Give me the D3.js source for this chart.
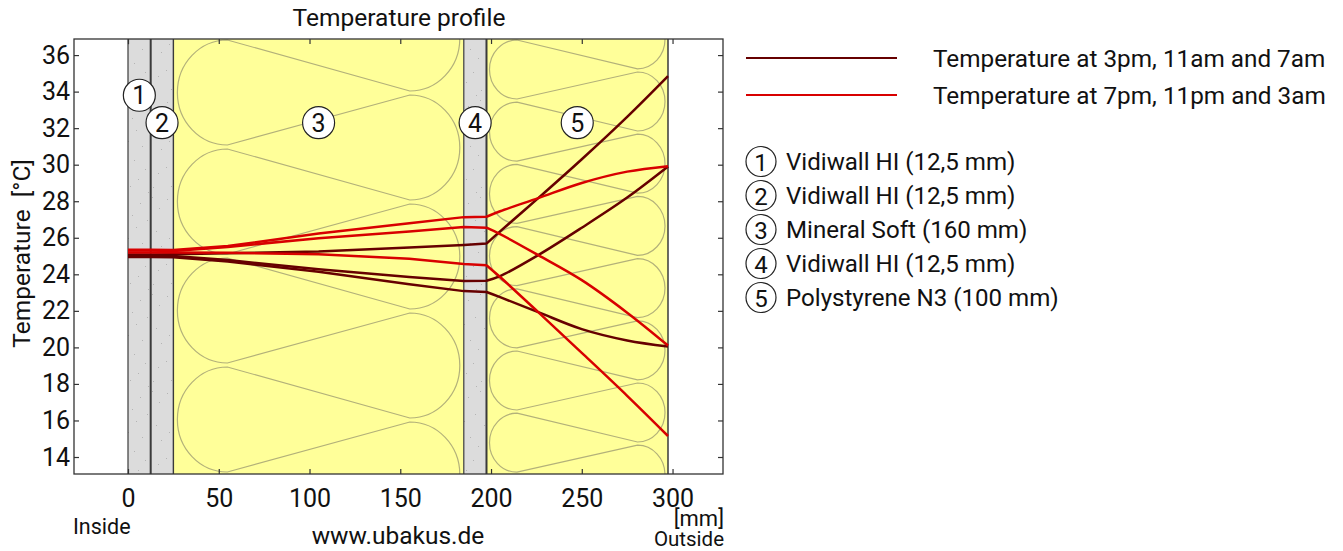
<!DOCTYPE html>
<html>
<head>
<meta charset="utf-8">
<script src="https://cdn.jsdelivr.net/npm/d3@7"></script>
<style>
body { margin: 0; background: #fff; }
text { font-family: Roboto, sans-serif; fill: #111; }
</style>
</head>
<body>
<div id="viz"></div>
<script>
var margin = {top: 39, right: 620, bottom: 77, left: 74},
    width = 1343,
    height = 551;

// wall layers, mm from the inside
var layerNames = ["Vidiwall HI (12,5 mm)", "Vidiwall HI (12,5 mm)", "Mineral Soft (160 mm)", "Vidiwall HI (12,5 mm)", "Polystyrene N3 (100 mm)"];
var layerEdges = [0, 12.5, 25, 185, 197.5, 297.5];
var layerKinds = ["board", "board", "wool", "board", "wool"];

// temperature read at these depths
var depths = [0, 12.5, 25, 55, 105, 155, 185, 197.5, 205, 226, 250, 275, 297.5];

var dayLabel = "Temperature at 3pm, 11am and 7am";
var dayA = [25.08, 25.08, 25.1, 25.15, 25.25, 25.47, 25.6, 25.68, 26.35, 28.17, 30.3, 32.62, 34.85];
var dayB = [25.0, 25.0, 25.0, 24.78, 24.28, 23.85, 23.63, 23.65, 23.9, 25.05, 26.55, 28.2, 29.9];
var dayC = [24.95, 24.95, 24.93, 24.7, 24.14, 23.45, 23.08, 23.03, 22.75, 21.93, 21.0, 20.38, 20.05];

var nightLabel = "Temperature at 7pm, 11pm and 3am";
var nightA = [25.35, 25.35, 25.33, 25.55, 26.23, 26.8, 27.13, 27.15, 27.45, 28.17, 29.0, 29.62, 29.92];
var nightB = [25.3, 25.3, 25.28, 25.5, 25.98, 26.35, 26.59, 26.55, 26.2, 25.05, 23.68, 21.9, 20.1];
var nightC = [25.2, 25.2, 25.2, 25.18, 25.1, 24.85, 24.56, 24.5, 23.85, 21.93, 19.7, 17.35, 15.15];

var xTicks = [0, 50, 100, 150, 200, 250, 300];
var yTicks = [14, 16, 18, 20, 22, 24, 26, 28, 30, 32, 34, 36];

var dayColor = "#660000", nightColor = "#d80000";

var x = d3.scaleLinear()
    .domain([-29.75, 327.8])
    .range([margin.left, width - margin.right]);

var y = d3.scaleLinear()
    .domain([13.07, 36.88])
    .range([height - margin.bottom, margin.top]);

var svg = d3.select("#viz").append("svg")
    .attr("width", width)
    .attr("height", height)
    .style("display", "block");

var defs = svg.append("defs");

defs.append("clipPath").attr("id", "plot")
  .append("rect")
    .attr("x", margin.left).attr("y", margin.top)
    .attr("width", width - margin.right - margin.left)
    .attr("height", height - margin.bottom - margin.top);

// gypsum board speckle
var speckle = defs.append("pattern").attr("id", "speckle")
    .attr("patternUnits", "userSpaceOnUse")
    .attr("width", 41).attr("height", 97);
speckle.append("rect").attr("width", 41).attr("height", 97).attr("fill", "#dcdcdc");
[[3,5],[17,9],[29,3],[36,14],[9,21],[24,26],[13,33],[33,37],[5,44],[19,49],[38,52],[27,58],
 [11,63],[2,70],[22,72],[35,76],[15,82],[7,89],[30,90],[25,95]].forEach(function(p) {
  speckle.append("rect")
    .attr("x", p[0]).attr("y", p[1])
    .attr("width", 1).attr("height", 1)
    .attr("fill", "#b4b4b4");
});

var layers = svg.append("g").attr("clip-path", "url(#plot)");

layerKinds.forEach(function(kind, i) {
  var x0 = x(layerEdges[i]), x1 = x(layerEdges[i + 1]);
  layers.append("rect")
    .attr("x", x0).attr("y", margin.top)
    .attr("width", x1 - x0)
    .attr("height", height - margin.bottom - margin.top)
    .attr("fill", kind == "board" ? "url(#speckle)" : "#ffff99");
});

// insulation squiggle, lobes left and right joined by straight runs
function wool(x0, x1, period, ry, rx, inset, topLeft, topRight) {
  var jl = x0 + inset, jr = x1 - inset;
  var yl = topLeft - period * 2, yr = topRight - period * 2;
  var d = "M" + jl + "," + yl;
  for (var k = 0; k < 12; k++) {
    d += "A" + rx + "," + ry + " 0 0 0 " + jl + "," + (yl + 2 * ry) +
         "L" + jr + "," + yr +
         "A" + rx + "," + ry + " 0 0 1 " + jr + "," + (yr + 2 * ry) +
         "L" + jl + "," + (yl + period);
    yl += period;
    yr += period;
  }
  return d;
}

var woolStroke = "#b3b17a";
layers.append("path")
    .attr("d", wool(x(25), x(185), 109, 52.5, 50, 54, 40, 95))
    .attr("fill", "none").attr("stroke", woolStroke).attr("stroke-width", 1.2);
layers.append("path")
    .attr("d", wool(x(197.5), x(297.5), 62.2, 29.5, 27.5, 30.5, 40, 72))
    .attr("fill", "none").attr("stroke", woolStroke).attr("stroke-width", 1.2);

// layer borders
var borderW = [1.2, 2, 1.4, 1.2, 2, 1.5];
layerEdges.forEach(function(e, i) {
  svg.append("line")
    .attr("x1", x(e)).attr("x2", x(e))
    .attr("y1", margin.top).attr("y2", height - margin.bottom)
    .attr("stroke", "#3a3a3a")
    .attr("stroke-width", borderW[i]);
});

// temperature lines: straight through the inner layers, smooth through the outer one
var kink = depths.indexOf(197.5);
var lineInner = d3.line()
    .x(function(d) { return x(d[0]); })
    .y(function(d) { return y(d[1]); });
var lineOuter = d3.line()
    .curve(d3.curveCatmullRom)
    .x(function(d) { return x(d[0]); })
    .y(function(d) { return y(d[1]); });

function drawSeries(s, color) {
  var pts = s.map(function(v, i) { return [depths[i], v]; });
  svg.append("path")
    .attr("d", lineInner(pts.slice(0, kink + 1)) + lineOuter(pts.slice(kink)))
    .attr("fill", "none")
    .attr("stroke", color)
    .attr("stroke-width", 2.5);
}

[dayA, dayB, dayC].forEach(function(s) { drawSeries(s, dayColor); });
[nightA, nightB, nightC].forEach(function(s) { drawSeries(s, nightColor); });

// frame and axes, ticks point inward on all four sides
function styleAxis(g) {
  g.select(".domain").remove();
  g.selectAll(".tick line").attr("stroke", "#333").attr("stroke-width", 1.2);
  g.selectAll(".tick text").style("font-size", "25px").attr("fill", "#111");
}

svg.append("g")
    .attr("transform", "translate(0," + (height - margin.bottom) + ")")
    .call(d3.axisBottom(x).tickValues(xTicks).tickSize(-5).tickPadding(15).tickFormat(d3.format("d")))
    .call(styleAxis);
svg.append("g")
    .attr("transform", "translate(0," + margin.top + ")")
    .call(d3.axisTop(x).tickValues(xTicks).tickSize(-5).tickFormat(""))
    .call(styleAxis);
svg.append("g")
    .attr("transform", "translate(" + margin.left + ",0)")
    .call(d3.axisLeft(y).tickValues(yTicks).tickSize(-5).tickPadding(4).tickFormat(d3.format("d")))
    .call(styleAxis);
svg.append("g")
    .attr("transform", "translate(" + (width - margin.right) + ",0)")
    .call(d3.axisRight(y).tickValues(yTicks).tickSize(-5).tickFormat(""))
    .call(styleAxis);

svg.append("rect")
    .attr("x", margin.left).attr("y", margin.top)
    .attr("width", width - margin.right - margin.left)
    .attr("height", height - margin.bottom - margin.top)
    .attr("fill", "none").attr("stroke", "#333").attr("stroke-width", 1.3);

// numbered markers inside the plot
var markerT = [33.8, 32.3, 32.3, 32.3, 32.3];
layerNames.forEach(function(n, i) {
  var cx = x((layerEdges[i] + layerEdges[i + 1]) / 2), cy = y(markerT[i]);
  svg.append("circle")
    .attr("cx", cx).attr("cy", cy).attr("r", 16)
    .attr("fill", "#fff").attr("stroke", "#222").attr("stroke-width", 1.2);
  svg.append("text")
    .attr("x", cx).attr("y", cy + 9)
    .attr("text-anchor", "middle")
    .style("font-size", "25px")
    .text(i + 1);
});

// titles
svg.append("text").attr("x", 399).attr("y", 26)
    .attr("text-anchor", "middle").style("font-size", "24.5px")
    .text("Temperature profile");
svg.append("text")
    .attr("transform", "translate(30,253.5) rotate(-90)")
    .attr("text-anchor", "middle").style("font-size", "24.5px")
    .style("white-space", "pre")
    .text("Temperature  [°C]");
svg.append("text").attr("x", 73).attr("y", 534)
    .style("font-size", "21.5px").text("Inside");
svg.append("text").attr("x", 398).attr("y", 544)
    .attr("text-anchor", "middle").style("font-size", "24.5px")
    .text("www.ubakus.de");
svg.append("text").attr("x", 724).attr("y", 526)
    .attr("text-anchor", "end").style("font-size", "22px")
    .text("[mm]");
svg.append("text").attr("x", 724).attr("y", 546)
    .attr("text-anchor", "end").style("font-size", "20.5px")
    .text("Outside");

// legend
var legend = svg.append("g").attr("class", "chart__legend");
[[dayLabel, dayColor, 58], [nightLabel, nightColor, 95]].forEach(function(l) {
  legend.append("line")
    .attr("x1", 746).attr("x2", 897)
    .attr("y1", l[2]).attr("y2", l[2])
    .attr("stroke", l[1]).attr("stroke-width", 2);
  legend.append("text")
    .attr("x", 933).attr("y", l[2] + 8.5)
    .style("font-size", "24.3px")
    .text(l[0]);
});
layerNames.forEach(function(n, i) {
  var cy = 161.5 + i * 34;
  legend.append("circle")
    .attr("cx", 761).attr("cy", cy).attr("r", 15)
    .attr("fill", "#fff").attr("stroke", "#222").attr("stroke-width", 1.2);
  legend.append("text")
    .attr("x", 761).attr("y", cy + 9)
    .attr("text-anchor", "middle").style("font-size", "24px")
    .text(i + 1);
  legend.append("text")
    .attr("x", 786).attr("y", cy + 8.5)
    .style("font-size", "24.1px")
    .text(n);
});
</script>
</body>
</html>
